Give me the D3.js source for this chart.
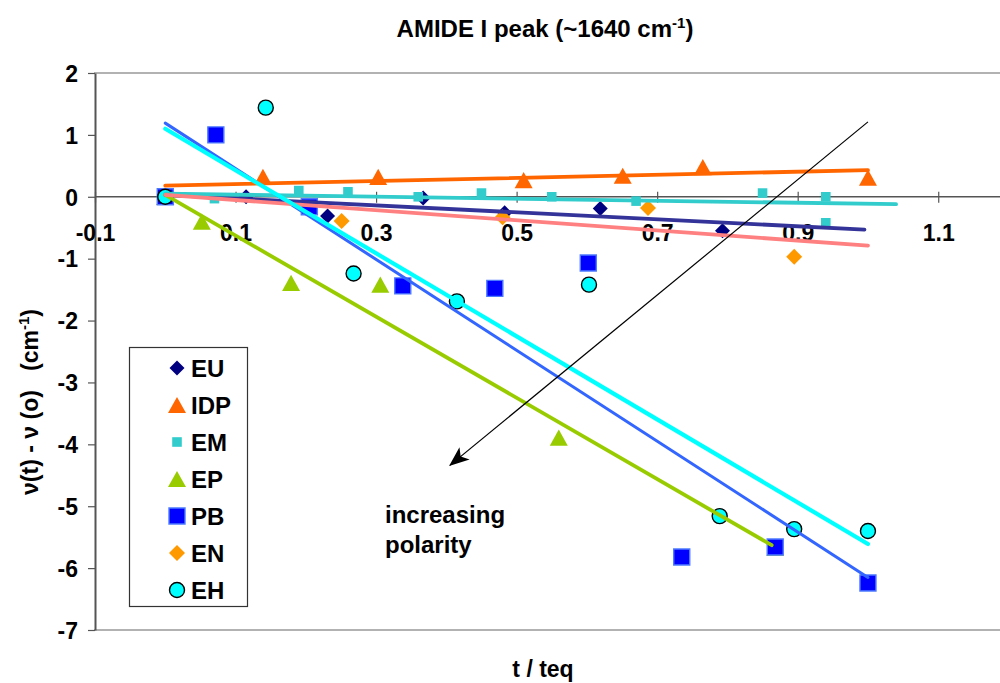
<!DOCTYPE html>
<html><head><meta charset="utf-8">
<script src="https://cdn.jsdelivr.net/npm/d3@7"></script>
<style>
body{margin:0;background:#fff}
svg{display:block}
text{font-family:"Liberation Sans",Arial,sans-serif;font-weight:bold;fill:#000}
</style>
</head><body>
<svg id="c" width="1000" height="683"></svg>
<script>
// ---------- data ----------
const seriesNames = ["EU","IDP","EM","EP","PB","EN","EH"];
const euX  = [0, 0.115, 0.231, 0.367, 0.483, 0.619, 0.793];
const euY  = [0, 0, -0.31, -0.02, -0.26, -0.19, -0.55];
const idpX = [0, 0.139, 0.303, 0.51, 0.651, 0.765, 1.0];
const idpY = [0, 0.32, 0.32, 0.27, 0.34, 0.48, 0.31];
const emX  = [0, 0.07, 0.19, 0.26, 0.36, 0.45, 0.55, 0.67, 0.85, 0.94, 0.94];
const emY  = [0, -0.03, 0.1, 0.08, 0, 0.06, 0, -0.07, 0.06, 0, -0.42];
const epX  = [0, 0.052, 0.179, 0.306, 0.56, 0.868];
const epY  = [0, -0.40, -1.39, -1.42, -3.89, -5.67];
const pbX  = [0, 0.072, 0.205, 0.338, 0.469, 0.602, 0.735, 0.868, 1.0];
const pbY  = [0, 1.0, -0.16, -1.44, -1.48, -1.07, -5.82, -5.66, -6.24];
const enX  = [0, 0.251, 0.48, 0.687, 0.895];
const enY  = [0, -0.39, -0.33, -0.18, -0.97];
const ehX  = [0, 0.143, 0.268, 0.415, 0.603, 0.789, 0.895, 1.0];
const ehY  = [0, 1.44, -1.24, -1.69, -1.42, -5.16, -5.37, -5.40];
// linear trend lines: [x0, y0, x1, y1]
const euTrend  = [0, 0.03, 0.995, -0.53];
const idpTrend = [0, 0.18, 1.0, 0.43];
const emTrend  = [0, 0.05, 1.04, -0.12];
const epTrend  = [0, 0.03, 0.863, -5.63];
const pbTrend  = [0, 1.19, 1.0, -6.15];
const enTrend  = [0, 0.03, 1.0, -0.79];
const ehTrend  = [0, 1.10, 1.0, -5.61];
const xTicks = [-0.1, 0.1, 0.3, 0.5, 0.7, 0.9, 1.1];
const yTicks = [-7, -6, -5, -4, -3, -2, -1, 0, 1, 2];
const arrowFromTo = [1.0, 1.21, 0.405, -4.34];

// ---------- styles ----------
const styles = {
  EU:  {shape:"diamond",  size:7.5, fill:"#000080", stroke:"none",    line:"#333399", lw:3.8},
  IDP: {shape:"triangle", size:9,   fill:"#FF6600", stroke:"none",    line:"#FF6600", lw:3.8},
  EM:  {shape:"square",   size:4.8, fill:"#33CCCC", stroke:"none",    line:"#33CCCC", lw:3.8},
  EP:  {shape:"triangle", size:9,   fill:"#99CC00", stroke:"none",    line:"#99CC00", lw:3.8},
  PB:  {shape:"square",   size:8,   fill:"#0000FF", stroke:"#4D79FF", line:"#3366FF", lw:3},
  EN:  {shape:"diamond",  size:8,   fill:"#FF9900", stroke:"none",    line:"#FF8080", lw:3.8},
  EH:  {shape:"circle",   size:7.5, fill:"#00FFFF", stroke:"#000000", line:"#00FFFF", lw:4.2}
};
const dataMap = {
  EU:[euX,euY,euTrend], IDP:[idpX,idpY,idpTrend], EM:[emX,emY,emTrend], EP:[epX,epY,epTrend],
  PB:[pbX,pbY,pbTrend], EN:[enX,enY,enTrend], EH:[ehX,ehY,ehTrend]
};

function shapePath(shape, s){
  switch(shape){
    case "diamond": return `M0,${-s}L${s},0L0,${s}L${-s},0Z`;
    case "triangle": return `M0,${-s*0.9}L${s},${s*0.9}L${-s},${s*0.9}Z`;
    case "square": return `M${-s},${-s}H${s}V${s}H${-s}Z`;
    case "circle": return `M${s},0A${s},${s} 0 1,1 ${-s},0A${s},${s} 0 1,1 ${s},0Z`;
  }
}

// ---------- chart ----------
const svg = d3.select("#c");
const x = d3.scaleLinear().domain([-0.1, 1.2]).range([95, 1008.5]);
const y = d3.scaleLinear().domain([-7, 2]).range([630, 73]);
const fmt = d => String(Math.round(d*10)/10);

// plot border (top/bottom)
svg.append("line").attr("x1",94).attr("x2",1000).attr("y1",y(2)).attr("y2",y(2)).attr("stroke","#999").attr("stroke-width",1.5);
svg.append("line").attr("x1",94).attr("x2",1000).attr("y1",y(-7)).attr("y2",y(-7)).attr("stroke","#999").attr("stroke-width",1.5);

// y axis
const yAxis = svg.append("g").attr("transform",`translate(${x(-0.1)},0)`)
  .call(d3.axisLeft(y).tickValues(yTicks).tickFormat(fmt).tickSizeInner(7).tickSizeOuter(0).tickPadding(10));
yAxis.select(".domain").attr("stroke","#555").attr("stroke-width",2);
yAxis.selectAll(".tick line").attr("stroke","#555").attr("stroke-width",1.2);
yAxis.selectAll("text").style("font-size","23px").attr("dy","0.36em");

// x axis at y=0
const xAxis = svg.append("g").attr("transform",`translate(0,${y(0)})`)
  .call(d3.axisBottom(x).tickValues(xTicks).tickFormat(fmt).tickSizeInner(6).tickSizeOuter(0).tickPadding(22));
xAxis.select(".domain").attr("d",`M${x(-0.1)},0H1000`).attr("stroke","#555").attr("stroke-width",1.5);
xAxis.selectAll(".tick line").attr("y1",-5).attr("y2",6).attr("stroke","#555").attr("stroke-width",1.2);
xAxis.selectAll("text").style("font-size","23px");

// markers
seriesNames.forEach(name => {
  const [xs, ys] = dataMap[name];
  const st = styles[name];
  svg.append("g").selectAll("path").data(xs.map((v,i)=>[v, ys[i]])).join("path")
    .attr("transform", d => `translate(${x(d[0])},${y(d[1])})`)
    .attr("d", shapePath(st.shape, st.size))
    .attr("fill", st.fill).attr("stroke", st.stroke).attr("stroke-width", st.stroke==="none"?0:1.4);
});

// trend lines
seriesNames.forEach(name => {
  const t = dataMap[name][2];
  const st = styles[name];
  svg.append("line")
    .attr("x1", x(t[0])).attr("y1", y(t[1])).attr("x2", x(t[2])).attr("y2", y(t[3]))
    .attr("stroke", st.line).attr("stroke-width", st.lw).attr("stroke-linecap","round");
});

// arrow
svg.append("defs").append("marker").attr("id","ah").attr("viewBox","0 0 20 20")
  .attr("refX",19).attr("refY",10).attr("markerWidth",20).attr("markerHeight",20)
  .attr("markerUnits","userSpaceOnUse").attr("orient","auto")
  .append("path").attr("d","M0,2L20,10L0,18L5,10Z").attr("fill","#000");
svg.append("line")
  .attr("x1", x(arrowFromTo[0])).attr("y1", y(arrowFromTo[1]))
  .attr("x2", x(arrowFromTo[2])).attr("y2", y(arrowFromTo[3]))
  .attr("stroke","#000").attr("stroke-width",1.2).attr("marker-end","url(#ah)");

// annotation
const ann = svg.append("text").attr("x",385).attr("y",523).style("font-size","24px");
ann.append("tspan").attr("x",385).text("increasing");
ann.append("tspan").attr("x",385).attr("dy",30).text("polarity");

// legend
const lg = svg.append("g");
lg.append("rect").attr("x",129.5).attr("y",347.5).attr("width",118).attr("height",259)
  .attr("fill","#fff").attr("stroke","#333").attr("stroke-width",1.2);
seriesNames.forEach((name,i) => {
  const st = styles[name];
  const cy = 368 + i*37;
  lg.append("path").attr("transform",`translate(177,${cy})`)
    .attr("d", shapePath(st.shape, st.size))
    .attr("fill", st.fill).attr("stroke", st.stroke).attr("stroke-width", st.stroke==="none"?0:1.4);
  lg.append("text").attr("x",191).attr("y",cy).attr("dy","0.36em").style("font-size","24px").text(name);
});

// title
const title = svg.append("text").attr("x",545).attr("y",37).attr("text-anchor","middle").style("font-size","24px");
title.append("tspan").text("AMIDE I peak (~1640 cm");
title.append("tspan").attr("dy",-9).style("font-size","15px").text("-1");
title.append("tspan").attr("dy",9).text(")");

// x label
svg.append("text").attr("x",543).attr("y",677).attr("text-anchor","middle").style("font-size","23px").text("t / teq");

// y label
const yl = svg.append("text").attr("transform","translate(38,402) rotate(-90)").attr("text-anchor","middle")
  .style("font-size","23px").style("white-space","pre");
yl.append("tspan").text("\u03BD(t) - \u03BD (o)   (cm");
yl.append("tspan").attr("dy",-9).style("font-size","15px").text("-1");
yl.append("tspan").attr("dy",9).text(")");
</script>
</body></html>
